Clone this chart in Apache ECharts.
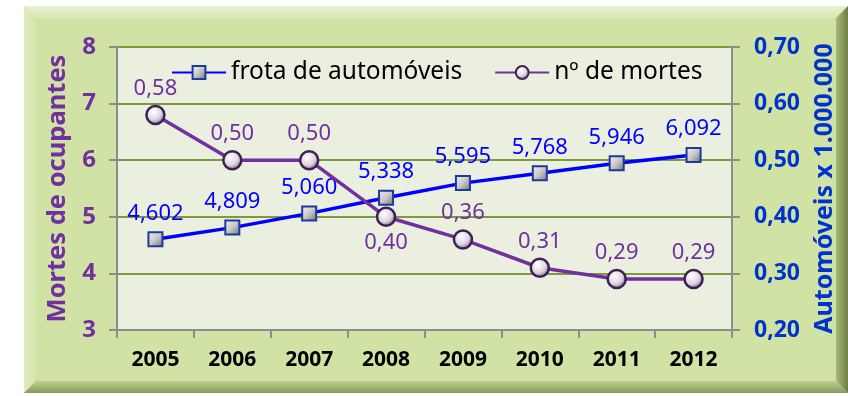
<!DOCTYPE html>
<html>
<head>
<meta charset="utf-8">
<script src="https://cdn.jsdelivr.net/npm/echarts@6/dist/echarts.min.js"></script>
<style>
  html, body { margin: 0; padding: 0; background: #ffffff; }
  #chart { width: 848px; height: 396px; }
</style>
</head>
<body>
<div id="chart"></div>
<script>
// Anos
const years = ['2005', '2006', '2007', '2008', '2009', '2010', '2011', '2012'];
// Frota de automóveis (milhões) – eixo esquerdo
const frota = [4.602, 4.809, 5.060, 5.338, 5.595, 5.768, 5.946, 6.092];
// Número de mortes de ocupantes – eixo direito
const mortes = [0.58, 0.50, 0.50, 0.40, 0.36, 0.31, 0.29, 0.29];
// Posição do rótulo de cada ponto de mortes
const mortesLabelPos = ['top', 'top', 'top', 'bottom', 'top', 'top', 'top', 'top'];

const FONT = 'Noto Sans';
const PURPLE = '#7030A0';
const BLUE = '#0000FF';
const AXIS_BLUE = '#0033CC';

const chart = echarts.init(document.getElementById('chart'));

const fmt = (v, d) => v.toFixed(d).replace('.', ',');

const squareFill = new echarts.graphic.LinearGradient(0, 0, 1, 1, [
  { offset: 0, color: '#f4f4f4' },
  { offset: 0.5, color: '#c8c8c8' },
  { offset: 1, color: '#6e6e6e' }
]);
const circleFill = new echarts.graphic.RadialGradient(0.4, 0.35, 0.7, [
  { offset: 0, color: '#ffffff' },
  { offset: 0.55, color: '#dcd6e2' },
  { offset: 1, color: '#6a5a78' }
]);

chart.setOption({
  backgroundColor: '#ffffff',
  animation: false,
  graphic: [
    // painel verde com bordas chanfradas
    { type: 'rect', z: -10, shape: { x: 24, y: 6, width: 824, height: 387 },
      style: { fill: '#D0E2A4' } },
    { type: 'polygon', z: -9, shape: { points: [[24, 6], [848, 6], [836, 18], [36, 18]] },
      style: { fill: new echarts.graphic.LinearGradient(0, 0, 0, 1, [
        { offset: 0, color: '#E8F1D2' }, { offset: 1, color: '#D8E8B4' }]) } },
    { type: 'polygon', z: -9, shape: { points: [[24, 6], [36, 18], [36, 381], [24, 393]] },
      style: { fill: new echarts.graphic.LinearGradient(0, 0, 1, 0, [
        { offset: 0, color: '#E0ECC4' }, { offset: 1, color: '#D4E5AC' }]) } },
    { type: 'polygon', z: -9, shape: { points: [[24, 393], [848, 393], [836, 381], [36, 381]] },
      style: { fill: new echarts.graphic.LinearGradient(0, 0, 0, 1, [
        { offset: 0, color: '#BFD08F' }, { offset: 1, color: '#8A9A5C' }]) } },
    { type: 'polygon', z: -9, shape: { points: [[848, 6], [848, 393], [836, 381], [836, 18]] },
      style: { fill: new echarts.graphic.LinearGradient(0, 0, 1, 0, [
        { offset: 0, color: '#A9BA78' }, { offset: 1, color: '#6E7C45' }]) } }
  ],
  grid: {
    left: 117, right: 116, top: 47, bottom: 66,
    show: true, backgroundColor: '#EBEFDF', borderWidth: 0
  },
  legend: {
    left: 166, top: 55,
    itemWidth: 54, itemHeight: 16, itemGap: 32,
    textStyle: { fontFamily: FONT, fontSize: 24.5, color: '#000000' },
    data: ['frota de automóveis', 'nº de mortes']
  },
  xAxis: {
    type: 'category',
    data: years,
    boundaryGap: true,
    axisLine: { show: true, lineStyle: { color: '#8C8C8C', width: 2 } },
    axisTick: { show: true, length: 8, lineStyle: { color: '#8C8C8C', width: 2 } },
    axisLabel: { fontFamily: FONT, fontSize: 21, fontWeight: 'bold', color: '#000000', margin: 20 },
    splitLine: { show: false }
  },
  yAxis: [
    {
      type: 'value', min: 3, max: 8, interval: 1, position: 'left',
      name: 'Mortes de ocupantes',
      nameLocation: 'middle', nameRotate: 90, nameGap: 46,
      nameTextStyle: { fontFamily: FONT, fontSize: 25.5, fontWeight: 'bold', color: PURPLE },
      axisLine: { show: true, lineStyle: { color: '#8C8C8C', width: 2 } },
      axisTick: { show: true, length: 8, lineStyle: { color: '#8C8C8C', width: 2 } },
      axisLabel: { fontFamily: FONT, fontSize: 24, fontWeight: 'bold', color: PURPLE, margin: 21 },
      splitLine: { show: true, lineStyle: { color: '#7E9A3A', width: 2 } }
    },
    {
      type: 'value', min: 0.2, max: 0.7, interval: 0.1, position: 'right',
      name: 'Automóveis x 1.000.000',
      nameLocation: 'middle', nameRotate: 90, nameGap: 80,
      nameTextStyle: { fontFamily: FONT, fontSize: 25, fontWeight: 'bold', color: AXIS_BLUE },
      axisLine: { show: true, lineStyle: { color: '#8C8C8C', width: 2 } },
      axisTick: { show: true, length: 8, lineStyle: { color: '#8C8C8C', width: 2 } },
      axisLabel: { fontFamily: FONT, fontSize: 23, fontWeight: 'bold', color: AXIS_BLUE, margin: 22,
        formatter: v => fmt(v, 2) },
      splitLine: { show: false }
    }
  ],
  series: [
    {
      name: 'frota de automóveis',
      type: 'line',
      yAxisIndex: 0,
      data: frota,
      symbol: 'rect', symbolSize: 14,
      lineStyle: { color: BLUE, width: 3.5 },
      itemStyle: { color: squareFill, borderColor: '#1F3A9A', borderWidth: 2 },
      label: {
        show: true, position: 'top', distance: 7,
        fontFamily: FONT, fontSize: 22, color: BLUE,
        formatter: p => fmt(p.value, 3)
      },
      z: 3
    },
    {
      name: 'nº de mortes',
      type: 'line',
      yAxisIndex: 1,
      data: mortes.map((v, i) => ({ value: v, label: { position: mortesLabelPos[i] } })),
      symbol: 'circle', symbolSize: 18,
      lineStyle: { color: PURPLE, width: 3.5 },
      itemStyle: { color: circleFill, borderColor: '#3E2150', borderWidth: 2.5 },
      label: {
        show: true, distance: 5,
        fontFamily: FONT, fontSize: 22, color: PURPLE,
        formatter: p => fmt(p.value, 2)
      },
      z: 4
    }
  ]
});
</script>
</body>
</html>
